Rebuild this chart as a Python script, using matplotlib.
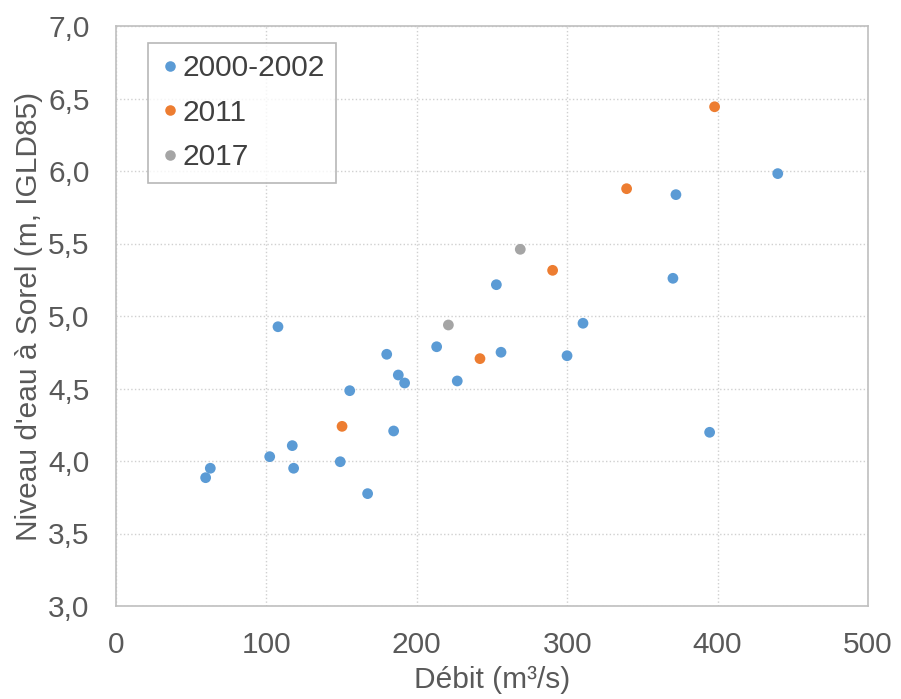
import matplotlib
matplotlib.use('Agg')
import matplotlib.pyplot as plt
from matplotlib.lines import Line2D

# Débit (m3/s) vs niveau d'eau (m)
debit_2000 = [59.6, 62.7, 102.2, 117.2, 118.1, 149.1, 155.4, 167.3, 184.6, 180.0,
              187.7, 191.9, 213.2, 107.7, 252.9, 226.9, 256.0, 299.9, 310.5, 370.3,
              372.3, 440.0, 394.7]
niveau_2000 = [3.885, 3.95, 4.03, 4.106, 3.95, 3.995, 4.485, 3.775, 4.207, 4.736,
               4.593, 4.538, 4.788, 4.926, 5.216, 4.552, 4.75, 4.726, 4.95, 5.26,
               5.837, 5.982, 4.198]
debit_2011 = [150.3, 242.0, 290.3, 339.5, 398.0]
niveau_2011 = [4.239, 4.706, 5.315, 5.878, 6.443]
debit_2017 = [221.0, 268.8]
niveau_2017 = [4.938, 5.46]

x_ticks = [0, 100, 200, 300, 400, 500]
y_ticks = [3.0, 3.5, 4.0, 4.5, 5.0, 5.5, 6.0, 6.5, 7.0]
y_tick_labels = ['3,0', '3,5', '4,0', '4,5', '5,0', '5,5', '6,0', '6,5', '7,0']

series = [
    ('2000-2002', debit_2000, niveau_2000, '#5B9BD5'),
    ('2011', debit_2011, niveau_2011, '#ED7D31'),
    ('2017', debit_2017, niveau_2017, '#A5A5A5'),
]

plt.rcParams['font.family'] = ['Liberation Sans', 'DejaVu Sans']
text_col = '#595959'

fig = plt.figure(figsize=(9.01, 6.99), dpi=100)
ax = fig.add_axes([116 / 901, 1 - 606 / 699, 752 / 901, 580 / 699])

for label, xs, ys, col in series:
    ax.scatter(xs, ys, s=60, color=col, edgecolors='none', label=label, zorder=3)

ax.set_xlim(0, 500)
ax.set_ylim(3.0, 7.0)
ax.set_xticks(x_ticks)
ax.set_yticks(y_ticks)
ax.set_yticklabels(y_tick_labels)
ax.tick_params(length=0, labelsize=21.5, labelcolor=text_col)
ax.tick_params(axis='x', pad=18)
ax.tick_params(axis='y', pad=19)

ax.grid(True, color='#D0D0D0', linestyle=':', linewidth=1.0, zorder=0)
ax.set_axisbelow(True)
for sp in ax.spines.values():
    sp.set_color('#BFBFBF')
    sp.set_linewidth(1.2)

ax.set_xlabel('Débit (m³/s)', fontsize=21.5, color=text_col, labelpad=5)
ax.set_ylabel("Niveau d'eau à Sorel (m, IGLD85)", fontsize=21.5, color=text_col, labelpad=4)

handles = [Line2D([], [], linestyle='none', marker='o', markersize=7.6,
                  markerfacecolor=col, markeredgecolor='none', label=label)
           for label, xs, ys, col in series]
leg = ax.legend(handles=handles, loc='upper left',
                bbox_to_anchor=(148 / 901, 1 - 43 / 699),
                bbox_transform=fig.transFigure,
                fontsize=21.5, frameon=True, fancybox=False,
                handlelength=0.7, handletextpad=0.08, labelspacing=0.55,
                borderpad=0.38, borderaxespad=0)
leg.get_frame().set_edgecolor('#A6A6A6')
leg.get_frame().set_linewidth(1.2)
for t in leg.get_texts():
    t.set_color('#404040')

fig.savefig('out.png', dpi=100)
